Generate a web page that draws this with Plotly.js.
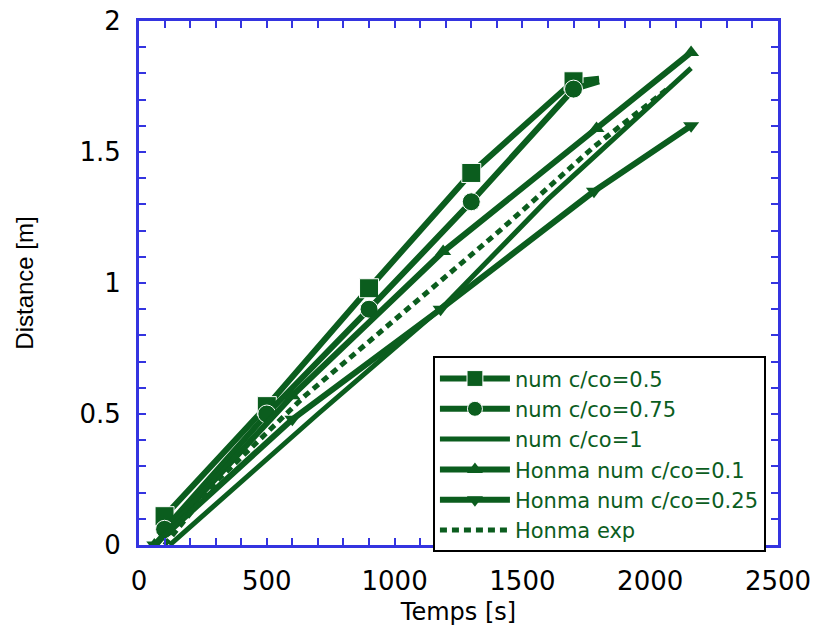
<!DOCTYPE html>
<html>
<head>
<meta charset="utf-8">
<script src="https://cdn.plot.ly/plotly-3.0.1.min.js"></script>
<style>html,body{margin:0;padding:0;background:#fff}#chart{width:815px;height:639px}</style>
</head>
<body>
<div id="chart"></div>
<script>
// ---- data ----
var seriesNames = ["num c/co=0.5", "num c/co=0.75", "num c/co=1", "Honma num c/co=0.1", "Honma num c/co=0.25", "Honma exp"];

var t_c05 = [100, 500, 900, 1300, 1700, 1800];
var d_c05 = [0.11, 0.53, 0.98, 1.42, 1.77, 1.78];

var t_c075 = [100, 500, 900, 1300, 1700, 1800];
var d_c075 = [0.06, 0.50, 0.90, 1.31, 1.74, 1.77];

var t_c1 = [120, 700, 1200, 1600, 2160];
var d_c1 = [0.00, 0.50, 0.92, 1.32, 1.82];

var t_h01 = [60, 600, 1190, 1790, 2160];
var d_h01 = [0.00, 0.57, 1.12, 1.59, 1.88];

var t_h025 = [60, 600, 1180, 1780, 2160];
var d_h025 = [0.00, 0.48, 0.90, 1.35, 1.60];

var t_exp = [100, 300, 650, 1000, 1400, 1780, 2080];
var d_exp = [0.00, 0.24, 0.57, 0.86, 1.19, 1.52, 1.75];

var xTickVals = [0, 500, 1000, 1500, 2000, 2500];
var yTickVals = [0, 0.5, 1, 1.5, 2];

// ---- styling ----
var green = "#0b5d1e";
var blue = "#3434e0";
var wideFont = "DejaVu Sans, sans-serif";
function sizesUpTo(xs, limit, s) { return xs.map(function (v) { return v <= limit ? s : 0; }); }

var traces = [
  {x: t_c05, y: d_c05, name: seriesNames[0], mode: "lines+markers",
   line: {color: green, width: 6}, marker: {symbol: "square", color: green, opacity: 1, size: sizesUpTo(t_c05, 1700, 19)}},
  {x: t_c075, y: d_c075, name: seriesNames[1], mode: "lines+markers",
   line: {color: green, width: 6}, marker: {symbol: "circle", color: green, opacity: 1, size: sizesUpTo(t_c075, 1700, 18)}},
  {x: t_c1, y: d_c1, name: seriesNames[2], mode: "lines",
   line: {color: green, width: 5}},
  {x: t_h01, y: d_h01, name: seriesNames[3], mode: "lines+markers",
   line: {color: green, width: 6}, marker: {symbol: "triangle-up", color: green, opacity: 1, size: 14}},
  {x: t_h025, y: d_h025, name: seriesNames[4], mode: "lines+markers",
   line: {color: green, width: 6}, marker: {symbol: "triangle-down", color: green, opacity: 1, size: 14}},
  {x: t_exp, y: d_exp, name: seriesNames[5], mode: "lines",
   line: {color: green, width: 5, dash: "7px,5px"}}
];

var axisCommon = {
  showgrid: false, zeroline: false, showline: true, linecolor: blue, linewidth: 3,
  mirror: "ticks", ticks: "inside", tickcolor: blue, tickwidth: 2, ticklen: 3,
  tickfont: {family: wideFont, size: 26, color: "#000"}
};

var layout = {
  width: 815, height: 639,
  margin: {l: 139, r: 37, t: 21, b: 94},
  paper_bgcolor: "#fff", plot_bgcolor: "#fff",
  showlegend: true,
  xaxis: Object.assign({}, axisCommon, {
    range: [0, 2500], tickvals: xTickVals, ticktext: xTickVals.map(String),
    minor: {dtick: 100, ticks: "inside", ticklen: 7, tickcolor: blue, tickwidth: 2},
    ticklabelstandoff: 11,
    title: {text: "Temps [s]", font: {family: wideFont, size: 24, color: "#000"}, standoff: 8}
  }),
  yaxis: Object.assign({}, axisCommon, {
    range: [0, 2], tickvals: yTickVals, ticktext: ["0", "0.5", "1", "1.5", "2"],
    minor: {dtick: 0.1, ticks: "inside", ticklen: 7, tickcolor: blue, tickwidth: 2},
    ticklabelstandoff: 10,
    title: {text: "Distance [m]", font: {family: "Liberation Sans, Arial, sans-serif", size: 24, color: "#000"}, standoff: 40}
  }),
  legend: {
    x: 0.46, y: 0.36, xanchor: "left", yanchor: "top",
    bgcolor: "#fff", bordercolor: "#000", borderwidth: 2,
    font: {family: wideFont, size: 21, color: green},
    itemwidth: 70, tracegroupgap: 0
  }
};

Plotly.newPlot("chart", traces, layout, {displayModeBar: false, staticPlot: true});
</script>
</body>
</html>
